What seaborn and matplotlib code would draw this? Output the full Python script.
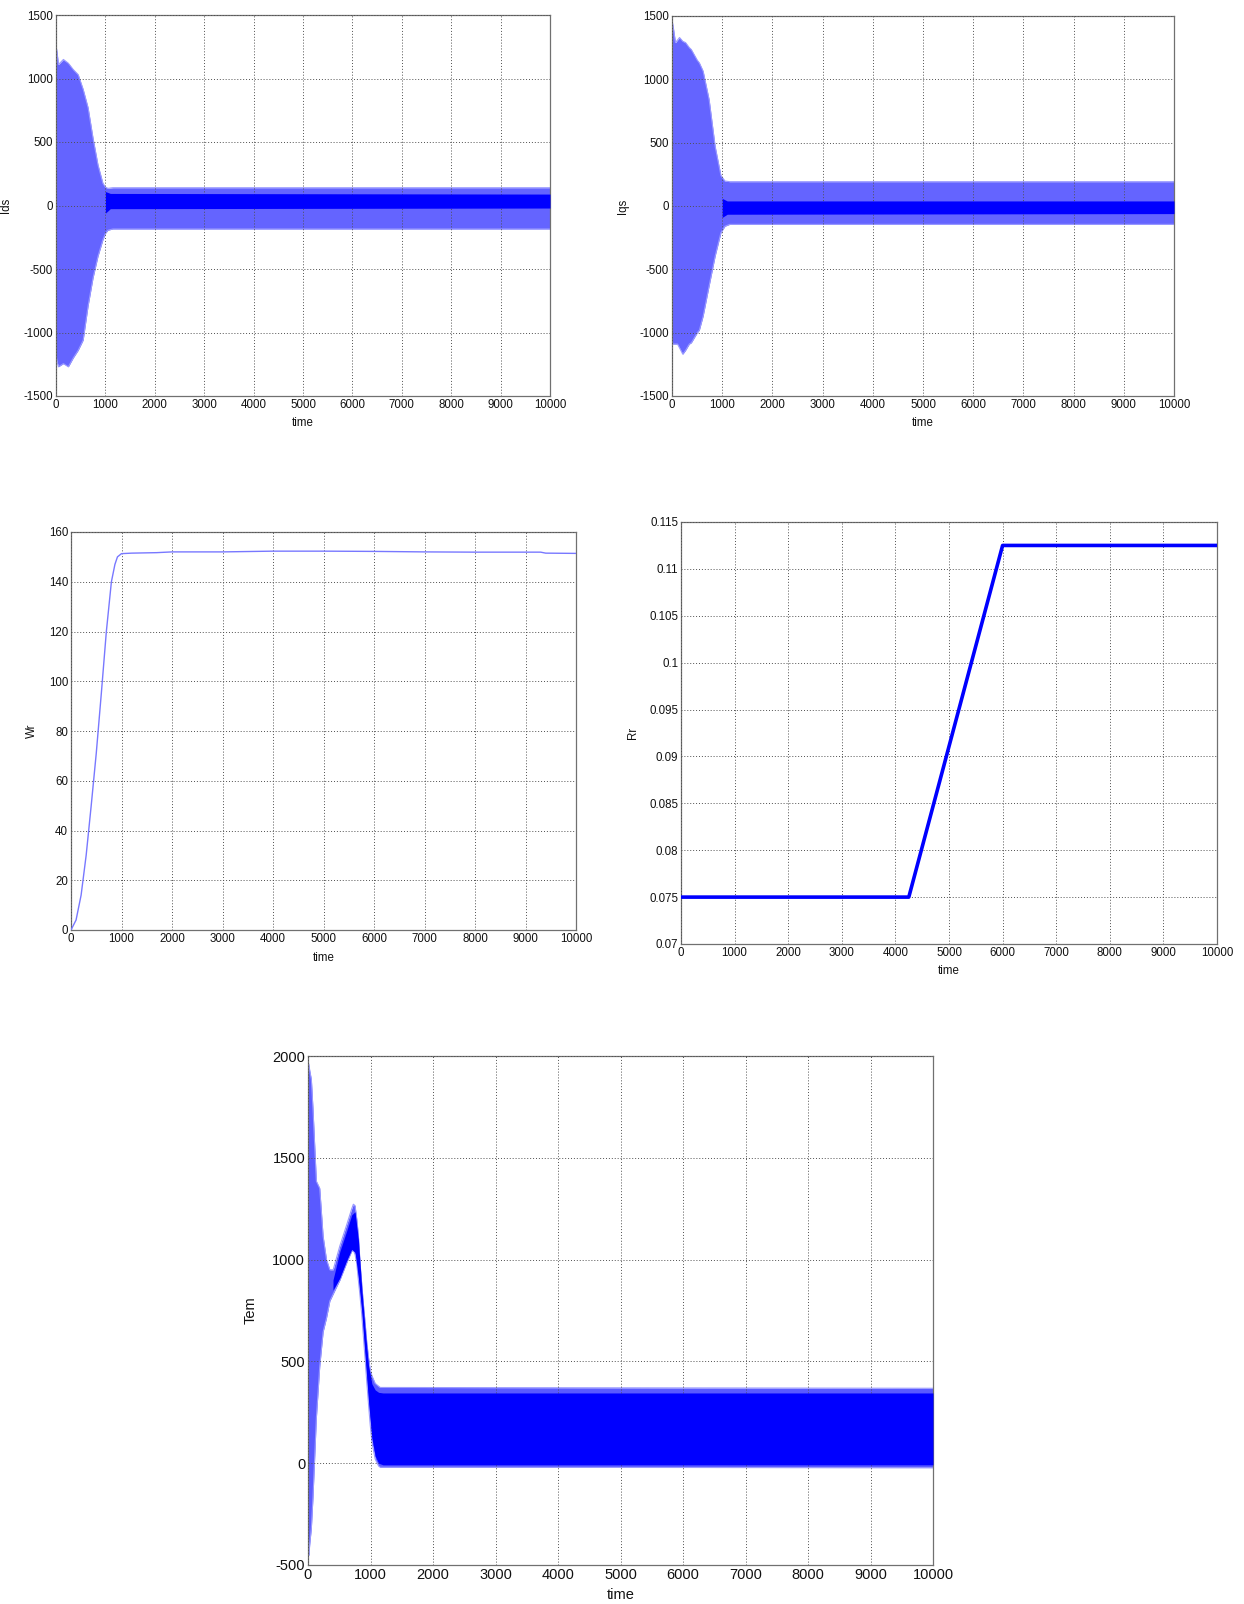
import numpy as np
import pandas as pd
import matplotlib
matplotlib.use("Agg")
import matplotlib.pyplot as plt
import seaborn as sns
from matplotlib.ticker import FuncFormatter

# ---------------- data ----------------
ids_time = [0, 15, 50, 150, 250, 350, 450, 550, 650, 750, 850, 950, 1000, 1050, 1150, 10000]
ids_upper = [1150, 1230, 1110, 1150, 1120, 1070, 1030, 915, 770, 530, 320, 175, 145, 135, 140, 140]
ids_lower = [-1150, -1220, -1270, -1245, -1270, -1200, -1140, -1060, -790, -570, -400, -270, -220, -195, -185, -185]
ids_core_time = [1000, 1100, 10000]
ids_core_upper = [110, 95, 90]
ids_core_lower = [-60, -25, -20]

iqs_time = [0, 15, 70, 110, 150, 215, 270, 345, 385, 505, 545, 620, 740, 860, 975, 1055, 1150, 10000]
iqs_upper = [1300, 1440, 1290, 1310, 1330, 1300, 1290, 1250, 1235, 1150, 1130, 1065, 840, 470, 240, 197, 192, 192]
iqs_lower = [-1050, -1090, -1090, -1090, -1120, -1170, -1140, -1090, -1080, -1000, -980, -870, -630, -395, -210, -160, -145, -145]
iqs_core_time = [1000, 1100, 10000]
iqs_core_upper = [60, 40, 40]
iqs_core_lower = [-90, -65, -60]

wr_time = [0, 100, 200, 300, 400, 500, 600, 700, 800, 870, 920, 1000, 1200, 1700, 2000, 3000,
           4000, 5000, 6000, 7000, 8000, 9300, 9400, 10000]
wr_value = [0, 4, 14, 30, 50, 71, 95, 120, 140, 147, 150, 151.3, 151.5, 151.7, 152, 152,
            152.3, 152.3, 152.2, 152, 151.9, 151.9, 151.5, 151.4]

rr_time = [0, 4250, 6000, 10000]
rr_value = [0.075, 0.075, 0.1125, 0.1125]

tem_time = [0, 15, 27, 54, 80, 134, 188, 242, 296, 350, 403, 510, 618, 700, 726, 753, 780, 806,
            833, 860, 887, 914, 940, 968, 995, 1022, 1075, 1130, 1156, 10000]
tem_upper = [1900, 1960, 1930, 1885, 1740, 1385, 1350, 1115, 1000, 950, 950, 1068, 1170, 1250, 1272,
             1265, 1200, 1120, 983, 880, 780, 690, 595, 520, 460, 430, 392, 378, 372, 368]
tem_lower = [-300, -453, -400, -318, -166, 223, 476, 645, 713, 797, 831, 899, 983, 1042, 1045,
             1025, 980, 899, 820, 730, 620, 510, 400, 290, 190, 105, 20, -14, -20, -22]
tem_core_time = [400, 510, 618, 700, 753, 806, 860, 914, 968, 1022, 1075, 1130, 1200, 10000]
tem_core_upper = [900, 1040, 1140, 1220, 1235, 1100, 860, 660, 480, 390, 360, 348, 345, 345]
tem_core_lower = [850, 910, 995, 1050, 1035, 910, 745, 525, 305, 125, 35, 0, -8, -8]

x_ticks = list(range(0, 10001, 1000))

# ---------------- style ----------------
sns.set_style("white")
plt.rcParams["font.family"] = ["Liberation Sans", "DejaVu Sans"]
plt.rcParams["axes.unicode_minus"] = False

W, H = 1244, 1604
fig = plt.figure(figsize=(W / 100, H / 100), dpi=100)


def box(l, t, r, b):
    return [l / W, 1 - b / H, (r - l) / W, (b - t) / H]


def style_axes(ax, yticks, ylim, ylabel, fs, ylab_x, xlab_y, fmt=None):
    ax.set_xlim(0, 10000)
    ax.set_ylim(*ylim)
    ax.set_xticks(x_ticks)
    ax.set_yticks(yticks)
    if fmt is not None:
        ax.yaxis.set_major_formatter(fmt)
    ax.grid(True, color="#505050", linestyle=(0, (1, 2)), linewidth=0.7)
    ax.set_axisbelow(False)
    for s in ax.spines.values():
        s.set_color("#707070")
        s.set_linewidth(0.9)
    ax.tick_params(axis="both", labelsize=fs, direction="in", length=2, width=0.6,
                   colors="#707070", labelcolor="#111111", pad=2)
    ax.set_xlabel("time", fontsize=fs, color="#111111")
    ax.set_ylabel(ylabel, fontsize=fs, color="#111111")
    ax.yaxis.set_label_coords(ylab_x, 0.5)
    ax.xaxis.set_label_coords(0.5, xlab_y)


def band(ax, t, up, lo, core_t, core_up, core_lo, light="#7474ff", dark="#0000ff"):
    ax.fill_between(t, lo, up, color=light, linewidth=0, zorder=2)
    df = pd.DataFrame({"t": t, "up": up, "lo": lo})
    sns.lineplot(data=df, x="t", y="up", ax=ax, color="#9a9aff", linewidth=0.8, zorder=2)
    sns.lineplot(data=df, x="t", y="lo", ax=ax, color="#9a9aff", linewidth=0.8, zorder=2)
    ax.fill_between(core_t, core_lo, core_up, color=dark, linewidth=0, zorder=3)


# Panel 1: Ids
ax1 = fig.add_axes(box(56, 15, 550, 396))
band(ax1, ids_time, ids_upper, ids_lower, ids_core_time, ids_core_upper, ids_core_lower,
     light="#6464ff")
style_axes(ax1, list(range(-1500, 1501, 500)), (-1500, 1500), "Ids", 8.3, -0.089, -0.055)

# Panel 2: Iqs
ax2 = fig.add_axes(box(672, 16, 1174, 396))
band(ax2, iqs_time, iqs_upper, iqs_lower, iqs_core_time, iqs_core_upper, iqs_core_lower,
     light="#6464ff")
style_axes(ax2, list(range(-1500, 1501, 500)), (-1500, 1500), "Iqs", 8.3, -0.086, -0.055)

# Panel 3: Wr
ax3 = fig.add_axes(box(71, 532, 576, 930))
sns.lineplot(x=wr_time, y=wr_value, ax=ax3, color="#7878ff", linewidth=1.0, zorder=3)
style_axes(ax3, list(range(0, 161, 20)), (0, 160), "Wr", 8.3, -0.065, -0.055)

# Panel 4: Rr
ax4 = fig.add_axes(box(681, 522, 1217, 944))
sns.lineplot(x=rr_time, y=rr_value, ax=ax4, color="#0000ff", linewidth=2.6, zorder=3)
style_axes(ax4, [0.07 + 0.005 * i for i in range(10)], (0.07, 0.115), "Rr", 8.3, -0.078, -0.05,
           fmt=FuncFormatter(lambda v, p: f"{round(v, 4):g}"))

# Panel 5: Tem
ax5 = fig.add_axes(box(308, 1056, 933, 1565))
band(ax5, tem_time, tem_upper, tem_lower, tem_core_time, tem_core_upper, tem_core_lower,
     light="#5a5aff")
style_axes(ax5, list(range(-500, 2001, 500)), (-500, 2000), "Tem", 10.5, -0.08, -0.045)

fig.savefig("out.png", dpi=100, facecolor="white")
